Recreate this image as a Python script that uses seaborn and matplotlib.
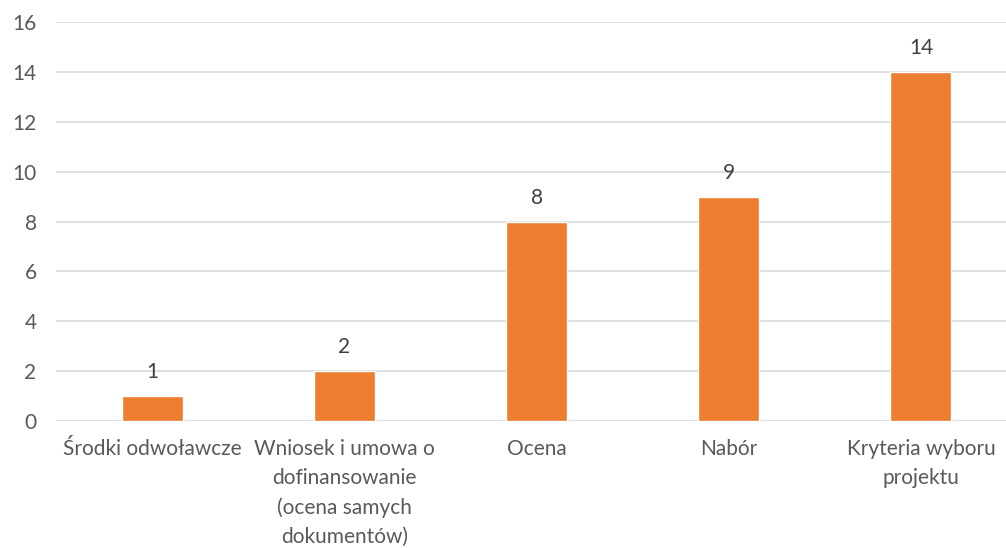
import matplotlib
matplotlib.use("Agg")
import matplotlib.pyplot as plt
import seaborn as sns
import pandas as pd

categories = ["Środki odwoławcze", "Wniosek i umowa o\ndofinansowanie\n(ocena samych\ndokumentów)",
              "Ocena", "Nabór", "Kryteria wyboru\nprojektu"]
values = [1, 2, 8, 9, 14]
yticks = [0, 2, 4, 6, 8, 10, 12, 14, 16]

sns.set_theme(style="white")
plt.rcParams['font.family'] = ['Lato', 'DejaVu Sans']

df = pd.DataFrame({"cat": categories, "val": values})

W, H = 1006, 548
left_px, right_px, top_px, bottom_px = 56, 1017, 22, 421
fig = plt.figure(figsize=(W / 100, H / 100), dpi=100)
ax = fig.add_axes([left_px / W, 1 - bottom_px / H, (right_px - left_px) / W, (bottom_px - top_px) / H])
sns.barplot(data=df, x="cat", y="val", color="#ED7D31", saturation=1, width=0.317, ax=ax, zorder=3)
ax.set_ylim(0, 16)
ax.set_xlim(-0.5, 4.5)
ax.set_yticks(yticks)
ax.grid(axis="y", color="#D9D9D9", linewidth=1.2, zorder=0)
ax.set_axisbelow(True)
for s in ax.spines.values():
    s.set_visible(False)
ax.set_xlabel("")
ax.set_ylabel("")
ax.tick_params(axis="both", length=0, colors="#595959", labelsize=15)
ax.tick_params(axis="y", pad=14)
ax.tick_params(axis="x", pad=13)
for lbl in ax.get_xticklabels():
    lbl.set_linespacing(1.55)
for c in ax.containers:
    ax.bar_label(c, labels=[str(v) for v in values], padding=10, color="#404040", fontsize=15)
fig.savefig("out.png", dpi=100)
